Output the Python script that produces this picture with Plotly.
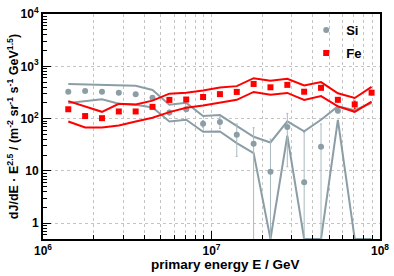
import numpy as np
import plotly.graph_objects as go

# ---- data ----
log_e = [6.15, 6.25, 6.35, 6.45, 6.55, 6.65, 6.75, 6.85, 6.95, 7.05,
         7.15, 7.25, 7.35, 7.45, 7.55, 7.65, 7.75, 7.85, 7.95]

si_flux = [325, 338, 328, 314, 294, 251, 131, 151, 80, 86,
           49, 33, 9.6, 69, 6.1, 29, 141, None, None]
si_err = [8, 8, 8, 9, 10, 12, 14, 12, 12, 21,
          30, 34, 31, 57, 48, 50, 12, 0, 0]
si_sys_hi = [460, 454, 445, 441, 425, 352, 184, 200, 112, 117,
             73, 45, 35, 89, 57, 95, 171, 145, 199]
si_sys_lo = [199, 218, 234, 192, 185, 164, 88, 95, 56, 57,
             34, 22, 0, 47, 0, 0, 95, 0, 0]

fe_flux = [151, 112, 102, 137, 137, 168, 228, 232, 259, 294,
           324, 460, 397, 442, 327, 388, 229, 187, 314]
fe_err = [5, 4, 4, 5, 5, 6, 8, 8, 9, 10,
          12, 15, 14, 15, 25, 30, 20, 30, 30]
fe_sys_hi = [216, 171, 135, 192, 187, 221, 300, 314, 345, 392,
             418, 593, 532, 578, 432, 499, 306, 248, 405]
fe_sys_lo = [88, 68, 68, 74, 88, 104, 133, 161, 179, 201,
             229, 324, 285, 310, 228, 270, 171, 135, 212]

x_tick_vals = [1e6, 1e7, 1e8]
x_tick_text = ["10<sup>6</sup>", "10<sup>7</sup>", "10<sup>8</sup>"]
y_tick_vals = [1, 10, 100, 1000, 10000]
y_tick_text = ["1", "10", "10<sup>2</sup>", "10<sup>3</sup>", "10<sup>4</sup>"]

YMIN, YMAX = 0.5, 1e4
XMIN, XMAX = 1e6, 1e8

# ---- styling ----
GRAY = "#8b9ea5"
GRAY_ERR = "#a9bac0"
RED = "#ff0000"
FONT = "Liberation Sans, Arial, Helvetica, sans-serif"

energy = [10 ** v for v in log_e]
floor = lambda arr: [max(v, YMIN) for v in arr]

fig = go.Figure()

fig.add_trace(go.Scatter(x=energy, y=floor(si_sys_hi), mode="lines",
                         line=dict(color=GRAY, width=2), showlegend=False,
                         hoverinfo="skip"))
fig.add_trace(go.Scatter(x=energy, y=floor(si_sys_lo), mode="lines",
                         line=dict(color=GRAY, width=2), showlegend=False,
                         hoverinfo="skip"))
fig.add_trace(go.Scatter(x=energy, y=si_flux, mode="markers", name="Si",
                         legendgroup="si",
                         marker=dict(symbol="circle", size=6, color=GRAY),
                         error_y=dict(type="data", array=si_err, color=GRAY_ERR,
                                      thickness=1, width=1)))

fig.add_trace(go.Scatter(x=energy, y=fe_sys_hi, mode="lines",
                         line=dict(color=RED, width=2), showlegend=False,
                         hoverinfo="skip"))
fig.add_trace(go.Scatter(x=energy, y=fe_sys_lo, mode="lines",
                         line=dict(color=RED, width=2), showlegend=False,
                         hoverinfo="skip"))
fig.add_trace(go.Scatter(x=energy, y=fe_flux, mode="markers", name="Fe",
                         legendgroup="fe",
                         marker=dict(symbol="square", size=6, color=RED),
                         error_y=dict(type="data", array=fe_err, color=RED,
                                      thickness=1, width=1)))

x_minor = [m * 10 ** d for d in (6, 7) for m in range(2, 10)]
y_minor = [m * 10 ** d for d in (-1, 0, 1, 2, 3) for m in range(2, 10)
           if YMIN <= m * 10 ** d <= YMAX]

axis_common = dict(
    type="log", showline=True, linewidth=2, linecolor="black", mirror=True,
    ticks="inside", ticklen=8, tickwidth=1, tickcolor="black",
    tickmode="array", zeroline=False, ticklabeloverflow="allow",
    gridcolor="#c4c4c4", griddash="dot", gridwidth=1, showgrid=True,
    tickfont=dict(family=FONT, size=12, color="black", weight="bold"),
)

fig.update_layout(
    width=394, height=276,
    margin=dict(l=43, r=9, t=5, b=37),
    paper_bgcolor="white", plot_bgcolor="white",
    font=dict(family=FONT, color="black"),
    showlegend=True,
    legend=dict(x=0.781, y=0.995, xanchor="left", yanchor="top",
                bgcolor="rgba(0,0,0,0)", borderwidth=0,
                traceorder="grouped", tracegroupgap=3,
                font=dict(family=FONT, size=13, color="black", weight="bold")),
    xaxis=dict(axis_common, range=[np.log10(XMIN), np.log10(XMAX)],
               tickvals=x_tick_vals, ticktext=x_tick_text,
               minor=dict(tickmode="array", tickvals=x_minor, ticks="inside",
                          ticklen=4, tickcolor="black", showgrid=True,
                          gridcolor="#c4c4c4", griddash="dot", gridwidth=1)),
    yaxis=dict(axis_common, range=[np.log10(YMIN), np.log10(YMAX)],
               tickvals=y_tick_vals, ticktext=y_tick_text,
               minor=dict(tickmode="array", tickvals=y_minor, ticks="inside",
                          ticklen=4, tickcolor="black", showgrid=False)),
    annotations=[
        dict(text="primary energy E / GeV", xref="paper", yref="paper",
             x=0.541, y=-0.115, xanchor="center", yanchor="middle",
             showarrow=False,
             font=dict(family=FONT, size=13.5, color="black", weight="bold")),
        dict(text="dJ/dE · E<sup>2.5</sup> / (m<sup>-2</sup> sr<sup>-1</sup> "
                  "s<sup>-1</sup> GeV<sup>1.5</sup>)",
             xref="paper", yref="paper", x=-0.09, y=0.5,
             xanchor="center", yanchor="middle", textangle=-90,
             showarrow=False,
             font=dict(family=FONT, size=12.5, color="black", weight="bold")),
    ],
)

fig.write_html("out.html",
               config={"displayModeBar": False},
               post_script="document.body.style.margin='0';"
                           "document.body.style.overflow='hidden';")
